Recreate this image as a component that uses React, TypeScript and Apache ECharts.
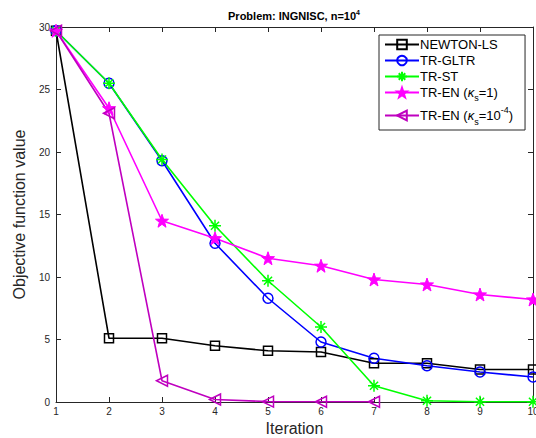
import React, { useEffect, useRef } from 'react';
import * as echarts from 'echarts';

const iterations = [1, 2, 3, 4, 5, 6, 7, 8, 9, 10];
const newtonLS = [29.7, 5.1, 5.1, 4.5, 4.1, 4.0, 3.1, 3.1, 2.6, 2.6];
const trGLTR = [29.7, 25.5, 19.3, 12.7, 8.3, 4.8, 3.5, 2.9, 2.4, 2.0];
const trST = [29.7, 25.5, 19.4, 14.1, 9.7, 6.0, 1.3, 0.1, 0.02, 0.02];
const trEN1 = [29.7, 23.5, 14.5, 13.1, 11.5, 10.9, 9.8, 9.4, 8.6, 8.2];
const trEN4 = [29.7, 23.1, 1.7, 0.2, 0.03, 0.02, 0.02];
const yTicks = [0, 5, 10, 15, 20, 25, 30];

const FONT = 'Liberation Sans, Arial, Helvetica, sans-serif';

const ASTERISK = 'path://M5,0L5,10M0,5L10,5M1.6,1.6L8.4,8.4M1.6,8.4L8.4,1.6';
const STAR =
  'path://M5,0L6.18,3.38L9.76,3.45L6.9,5.62L7.94,9.05L5,7L2.06,9.05L3.1,5.62L0.24,3.45L3.82,3.38Z';
const TRI_LEFT = 'path://M0,5L10,0L10,10Z';

function pairs(vals: number[]) {
  return vals.map((v, i) => [iterations[i], v]);
}

export default function App() {
  const ref = useRef<HTMLDivElement>(null);
  useEffect(() => {
    if (!ref.current) return;
    const chart = echarts.init(ref.current, undefined, { renderer: 'svg' });
    const axisCommon = {
      axisLine: { show: true, onZero: false, lineStyle: { color: '#262626', width: 1 } },
      axisTick: { show: true, inside: true, length: 5, lineStyle: { color: '#262626' } },
      splitLine: { show: false },
    };
    const mk = (name: string, data: number[], color: string, symbol: string, size: number, filled: boolean) => ({
      name,
      type: 'line',
      data: pairs(data),
      symbol,
      symbolSize: size,
      lineStyle: { color, width: 1.6 },
      itemStyle: filled
        ? { color, borderColor: color, borderWidth: 1 }
        : { color: 'rgba(255,255,255,0)', borderColor: color, borderWidth: 1.5 },
      emphasis: { disabled: true },
    });
    const legendNames: Record<string, string> = {
      'NEWTON-LS': 'NEWTON-LS',
      'TR-GLTR': 'TR-GLTR',
      'TR-ST': 'TR-ST',
      'TR-EN1': 'TR-EN ({k|κ}{sub|s}=1)',
      'TR-EN4': 'TR-EN ({k|κ}{sub|s}=10{sup|-4})',
    };
    chart.setOption({
      animation: false,
      backgroundColor: '#fff',
      title: {
        text: 'Problem: INGNISC, n=10{sup|4}',
        left: 289,
        top: 4,
        textAlign: 'center',
        textStyle: {
          fontFamily: FONT,
          fontSize: 11,
          fontWeight: 'bold',
          color: '#000',
          rich: {
            sup: { fontSize: 7, fontWeight: 'bold', verticalAlign: 'top', padding: [0, 0, 6, 0], fontFamily: FONT },
          },
        },
      },
      grid: { left: 56, right: 3, top: 27, bottom: 36, outerBoundsMode: 'none', containLabel: false },
      xAxis: [
        {
          type: 'value',
          min: 1,
          max: 10,
          interval: 1,
          name: 'Iteration',
          nameLocation: 'middle',
          nameGap: 17,
          nameTextStyle: { fontFamily: FONT, fontSize: 16, color: '#262626' },
          axisLabel: { fontFamily: FONT, fontSize: 10, color: '#262626', margin: 4 },
          ...axisCommon,
        },
        {
          type: 'value',
          min: 1,
          max: 10,
          interval: 1,
          position: 'top',
          axisLabel: { show: false },
          ...axisCommon,
        },
      ],
      yAxis: [
        {
          type: 'value',
          min: yTicks[0],
          max: yTicks[yTicks.length - 1],
          interval: 5,
          name: 'Objective function value',
          nameLocation: 'middle',
          nameGap: 19,
          nameTextStyle: { fontFamily: FONT, fontSize: 16, color: '#262626' },
          axisLabel: { fontFamily: FONT, fontSize: 10, color: '#262626', margin: 6 },
          ...axisCommon,
        },
        {
          type: 'value',
          min: yTicks[0],
          max: yTicks[yTicks.length - 1],
          interval: 5,
          position: 'right',
          axisLabel: { show: false },
          ...axisCommon,
        },
      ],
      legend: {
        orient: 'vertical',
        left: 379,
        top: 35,
        backgroundColor: '#fff',
        borderColor: '#262626',
        borderWidth: 1,
        borderRadius: 0,
        padding: [3, 12, 4, 5],
        itemGap: 3,
        itemWidth: 34,
        itemHeight: 12,
        formatter: (n: string) => legendNames[n] || n,
        textStyle: {
          fontFamily: FONT,
          fontSize: 13,
          color: '#000',
          padding: [0, 0, 0, -4],
          rich: {
            k: { fontFamily: FONT, fontSize: 13, fontStyle: 'italic', color: '#000' },
            sub: { fontFamily: FONT, fontSize: 9, color: '#000', verticalAlign: 'bottom', padding: [10, 0, 0, 0] },
            sup: { fontFamily: FONT, fontSize: 9, color: '#000', verticalAlign: 'top', padding: [0, 0, 12, 0] },
          },
        },
        data: ['NEWTON-LS', 'TR-GLTR', 'TR-ST', 'TR-EN1', 'TR-EN4'],
      },
      series: [
        mk('NEWTON-LS', newtonLS, '#000000', 'rect', 9, false),
        mk('TR-GLTR', trGLTR, '#0000ff', 'circle', 10, false),
        mk('TR-ST', trST, '#00ff00', ASTERISK, 12, false),
        mk('TR-EN1', trEN1, '#ff00ff', STAR, 13, true),
        mk('TR-EN4', trEN4, '#bf00bf', TRI_LEFT, 11, false),
      ],
    });
    return () => chart.dispose();
  }, []);
  return <div ref={ref} style={{ width: 536, height: 438, position: 'absolute', left: 0, top: 0 }} />;
}
